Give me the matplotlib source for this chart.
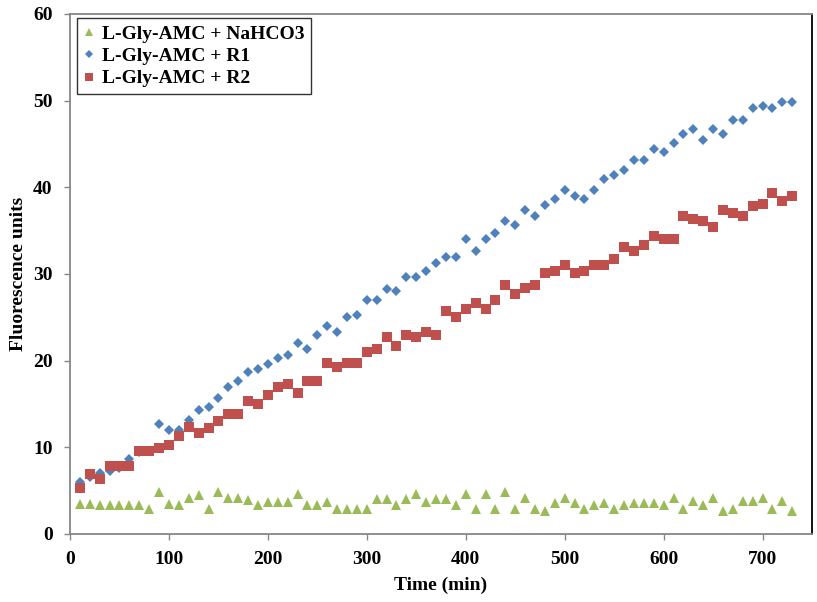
import matplotlib
matplotlib.use('Agg')
import matplotlib.pyplot as plt
import numpy as np

time_min = np.arange(10, 740, 10)

nahco3 = [3.5, 3.5, 3.3, 3.3, 3.3, 3.3, 3.3, 2.9, 4.9, 3.5,
          3.3, 4.2, 4.5, 2.9, 4.9, 4.2, 4.2, 3.9, 3.3, 3.7,
          3.7, 3.7, 4.6, 3.3, 3.3, 3.7, 2.9, 2.9, 2.9, 2.9,
          4.0, 4.0, 3.3, 4.0, 4.6, 3.7, 4.0, 4.0, 3.3, 4.6,
          2.9, 4.6, 2.9, 4.9, 2.9, 4.2, 2.9, 2.6, 3.6, 4.2,
          3.6, 2.9, 3.3, 3.6, 2.9, 3.3, 3.6, 3.6, 3.6, 3.3,
          4.2, 2.9, 3.8, 3.3, 4.2, 2.6, 2.9, 3.8, 3.8, 4.2,
          2.9, 3.8, 2.6]

r1 = [6.0, 6.6, 7.0, 7.3, 7.6, 8.7, 9.5, 9.6, 12.7, 12.0,
      12.0, 13.1, 14.3, 14.7, 15.7, 17.0, 17.7, 18.7, 19.0, 19.6,
      20.3, 20.7, 22.0, 21.3, 23.0, 24.0, 23.3, 25.0, 25.3, 27.0,
      27.0, 28.3, 28.0, 29.7, 29.7, 30.3, 31.3, 32.0, 32.0, 34.0,
      32.7, 34.0, 34.7, 36.1, 35.7, 37.4, 36.7, 38.0, 38.7, 39.7,
      39.0, 38.7, 39.7, 41.0, 41.4, 42.0, 43.1, 43.1, 44.4, 44.1,
      45.1, 46.1, 46.7, 45.5, 46.7, 46.1, 47.8, 47.8, 49.1, 49.4,
      49.1, 49.8, 49.8]

r2 = [5.3, 6.9, 6.3, 7.9, 7.9, 7.9, 9.6, 9.6, 9.9, 10.3,
      11.3, 12.3, 11.6, 12.2, 13.0, 13.9, 13.9, 15.3, 15.0, 16.0,
      17.0, 17.3, 16.3, 17.7, 17.7, 19.7, 19.3, 19.7, 19.7, 21.0,
      21.3, 22.7, 21.7, 23.0, 22.7, 23.3, 23.0, 25.7, 25.0, 26.0,
      26.7, 26.0, 27.0, 28.7, 27.7, 28.4, 28.7, 30.1, 30.4, 31.0,
      30.1, 30.4, 31.0, 31.0, 31.7, 33.1, 32.7, 33.4, 34.4, 34.0,
      34.0, 36.7, 36.4, 36.1, 35.4, 37.4, 37.0, 36.7, 37.8, 38.1,
      39.4, 38.4, 39.0]

labels = ['L-Gly-AMC + NaHCO3', 'L-Gly-AMC + R1', 'L-Gly-AMC + R2']

plt.rcParams['font.family'] = ['Liberation Serif', 'DejaVu Serif']
plt.rcParams['font.weight'] = 'bold'

fig = plt.figure(figsize=(8.17, 6.02), dpi=100)
ax = fig.add_axes([0.0857, 0.1130, 0.9082, 0.8638])

ax.plot(time_min, nahco3, '^', color='#9BBB59', markersize=7.4, markeredgewidth=0,
        label=labels[0], zorder=3)
ax.plot(time_min, r1, 'D', color='#4F81BD', markersize=5.2, markeredgewidth=0,
        label=labels[1], zorder=3)
ax.plot(time_min, r2, 's', color='#C0504D', markersize=7.6, markeredgewidth=0,
        label=labels[2], zorder=4)

ax.set_xlim(0, 750)
ax.set_ylim(0, 60)
ax.set_xticks(np.arange(0, 701, 100))
ax.set_yticks(np.arange(0, 61, 10))
ax.tick_params(axis='both', direction='out', length=4.5, width=1, color='#868686',
               labelsize=14, pad=8)
for lab in ax.get_xticklabels() + ax.get_yticklabels():
    lab.set_fontweight('bold')

for side in ['left', 'bottom', 'top']:
    ax.spines[side].set_color('#868686')
    ax.spines[side].set_linewidth(1.3)
ax.spines['right'].set_color('black')
ax.spines['right'].set_linewidth(1.3)

ax.set_xlabel('Time (min)', fontsize=14, fontweight='bold', labelpad=6)
ax.set_ylabel('Fluorescence units', fontsize=14, fontweight='bold', labelpad=4)

leg = ax.legend(loc='upper left', bbox_to_anchor=(0.009, 0.992), fontsize=14,
                frameon=True, fancybox=False, handlelength=0.6, handletextpad=0.35,
                borderpad=0.35, labelspacing=0.25, borderaxespad=0, markerscale=0.75)
leg.get_frame().set_edgecolor('black')
leg.get_frame().set_linewidth(1.0)
for t in leg.get_texts():
    t.set_fontweight('bold')

fig.savefig('out.png', dpi=100)
